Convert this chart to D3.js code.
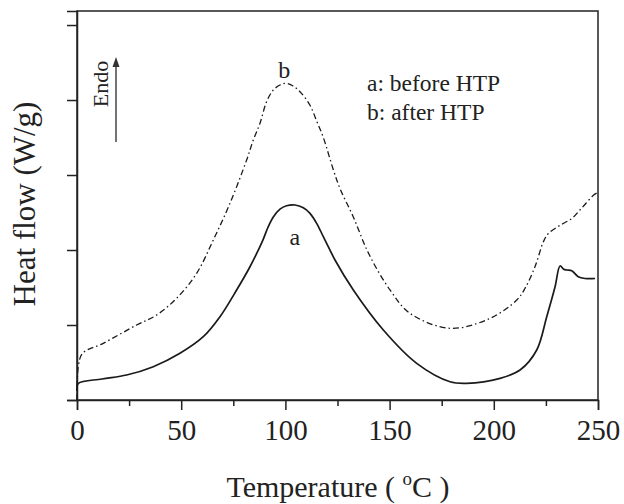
<!DOCTYPE html>
<html>
<head>
<meta charset="utf-8">
<script src="https://cdn.jsdelivr.net/npm/d3@7"></script>
</head>
<body style="margin:0;padding:0;background:#fff">
<svg id="chart" width="624" height="504" style="display:block"></svg>
<script>
// Curve a (before HTP): temperature (°C) and heat flow (arbitrary units)
const tempA = [0, 0.6, 12, 23.8, 36.6, 49.4, 60.6, 68.6, 76.6, 83.0, 89.2, 91.6, 94.2, 97.4, 100.6, 104.6, 108.6, 111.8, 115.0, 118.2, 121.4, 123.8, 132.6, 147.0, 163.0, 179.0, 187.0, 203.0, 212.6, 220.6, 225.4, 229.4, 231.8, 233.5, 235.0, 237.4, 240.5, 243.8, 248.6];
const heatA = [0.12, 0.22, 0.28, 0.333, 0.444, 0.623, 0.844, 1.111, 1.467, 1.777, 2.133, 2.30, 2.44, 2.545, 2.59, 2.6, 2.564, 2.489, 2.356, 2.177, 2.0, 1.867, 1.467, 0.933, 0.489, 0.244, 0.223, 0.289, 0.40, 0.667, 1.111, 1.51, 1.787, 1.745, 1.733, 1.724, 1.644, 1.62, 1.62];
// Curve b (after HTP)
const tempB = [0, 0.6, 2.7, 12.6, 28.6, 38.2, 47.8, 57.4, 65.4, 73.4, 81.4, 84.6, 87.8, 91.0, 94.2, 97.4, 100.3, 103.5, 107.0, 111.8, 115.0, 118.2, 123.0, 126.2, 132.6, 140.0, 150.2, 159.8, 179.0, 198.2, 211.0, 215.0, 219.8, 223.8, 226.2, 231.8, 237.4, 242.2, 247.8, 249.5];
const heatB = [0.0, 0.44, 0.623, 0.756, 1.0, 1.133, 1.356, 1.689, 2.133, 2.623, 3.2, 3.467, 3.689, 3.98, 4.133, 4.2, 4.223, 4.19, 4.11, 3.93, 3.72, 3.50, 3.07, 2.82, 2.44, 1.95, 1.467, 1.156, 0.956, 1.089, 1.333, 1.49, 1.78, 2.11, 2.22, 2.33, 2.42, 2.56, 2.73, 2.76];

const xTicks = [0, 50, 100, 150, 200, 250];
const xMinorTicks = [25, 75, 125, 175, 225];
const yTicks = [0, 1, 2, 3, 4, 5];

const FONT = '"Liberation Serif"';
const svg = d3.select("#chart");
const margin = { left: 77, right: 26, top: 11, bottom: 104 };
const W = 624, H = 504;

const x = d3.scaleLinear().domain([0, 250]).range([margin.left, W - margin.right]);
const y = d3.scaleLinear().domain([0, 5.187]).range([H - margin.bottom, margin.top]);

const axisColor = "#222";

// Frame
svg.append("rect")
  .attr("x", x(0)).attr("y", y(5.187))
  .attr("width", x(250) - x(0)).attr("height", y(0) - y(5.187))
  .attr("fill", "none").attr("stroke", axisColor).attr("stroke-width", 1.5);

// X axis
const xAxis = svg.append("g").attr("transform", `translate(0,${y(0)})`)
  .call(d3.axisBottom(x).tickValues(xTicks).tickSize(10).tickPadding(9).tickFormat(d3.format("d")));
xAxis.attr("font-family", null);
xAxis.select(".domain").attr("stroke", axisColor).attr("stroke-width", 1.5);
xAxis.selectAll(".tick line").attr("stroke", axisColor).attr("stroke-width", 1.5);
xAxis.selectAll(".tick text").style("font-family", FONT).style("font-size", "29px").style("fill", "#222");

const xMinor = svg.append("g").attr("transform", `translate(0,${y(0)})`)
  .call(d3.axisBottom(x).tickValues(xMinorTicks).tickSize(6).tickFormat(""));
xMinor.select(".domain").remove();
xMinor.selectAll(".tick line").attr("stroke", axisColor).attr("stroke-width", 1.5);

// Y axis (no labels)
const yAxis = svg.append("g").attr("transform", `translate(${x(0)},0)`)
  .call(d3.axisLeft(y).tickValues(yTicks).tickSize(10).tickFormat(""));
yAxis.select(".domain").attr("stroke", axisColor).attr("stroke-width", 1.5);
yAxis.selectAll(".tick line").attr("stroke", axisColor).attr("stroke-width", 1.5);

// Curves
const line = d3.line().x(d => x(d[0])).y(d => y(d[1])).curve(d3.curveCatmullRom.alpha(0.5));
const dataA = tempA.map((t, i) => [t, heatA[i]]);
const dataB = tempB.map((t, i) => [t, heatB[i]]);

svg.append("path").datum(dataA).attr("d", line)
  .attr("fill", "none").attr("stroke", "#1a1a1a").attr("stroke-width", 1.7);
svg.append("path").datum(dataB).attr("d", line)
  .attr("fill", "none").attr("stroke", "#1a1a1a").attr("stroke-width", 1.3)
  .attr("stroke-dasharray", "6,3,1.5,3");

function txt(xp, yp, size, s, anchor) {
  return svg.append("text").attr("x", xp).attr("y", yp)
    .attr("text-anchor", anchor || "start")
    .style("font-family", FONT).style("font-size", size + "px").style("fill", "#222")
    .text(s);
}

// Curve labels
txt(x(99.5), y(4.3), 24, "b", "middle");
txt(x(104.5), y(2.067), 24, "a", "middle");

// Legend text
txt(367, 90.5, 23.5, "a: before HTP");
txt(367, 120, 23.5, "b: after HTP");

// Endo arrow
svg.append("line").attr("x1", 116).attr("y1", 142).attr("x2", 116).attr("y2", 66)
  .attr("stroke", "#444").attr("stroke-width", 1.5);
svg.append("path").attr("d", "M112.5,67 L116,57 L119.5,67 Z").attr("fill", "#333");
svg.append("text").attr("transform", "translate(108,84) rotate(-90)")
  .attr("text-anchor", "middle")
  .style("font-family", FONT).style("font-size", "22px").style("fill", "#222")
  .text("Endo");

// Axis titles
const xt = svg.append("text").attr("x", 338).attr("y", 497).attr("text-anchor", "middle")
  .style("font-family", FONT).style("font-size", "30px").style("fill", "#222");
xt.append("tspan").text("Temperature ( ");
xt.append("tspan").style("font-size", "19px").attr("dy", -12).text("o");
xt.append("tspan").attr("dy", 12).text("C )");

svg.append("text").attr("transform", "translate(35,204) rotate(-90)")
  .attr("text-anchor", "middle")
  .style("font-family", FONT).style("font-size", "31px").style("fill", "#222")
  .text("Heat flow (W/g)");
</script>
</body>
</html>
